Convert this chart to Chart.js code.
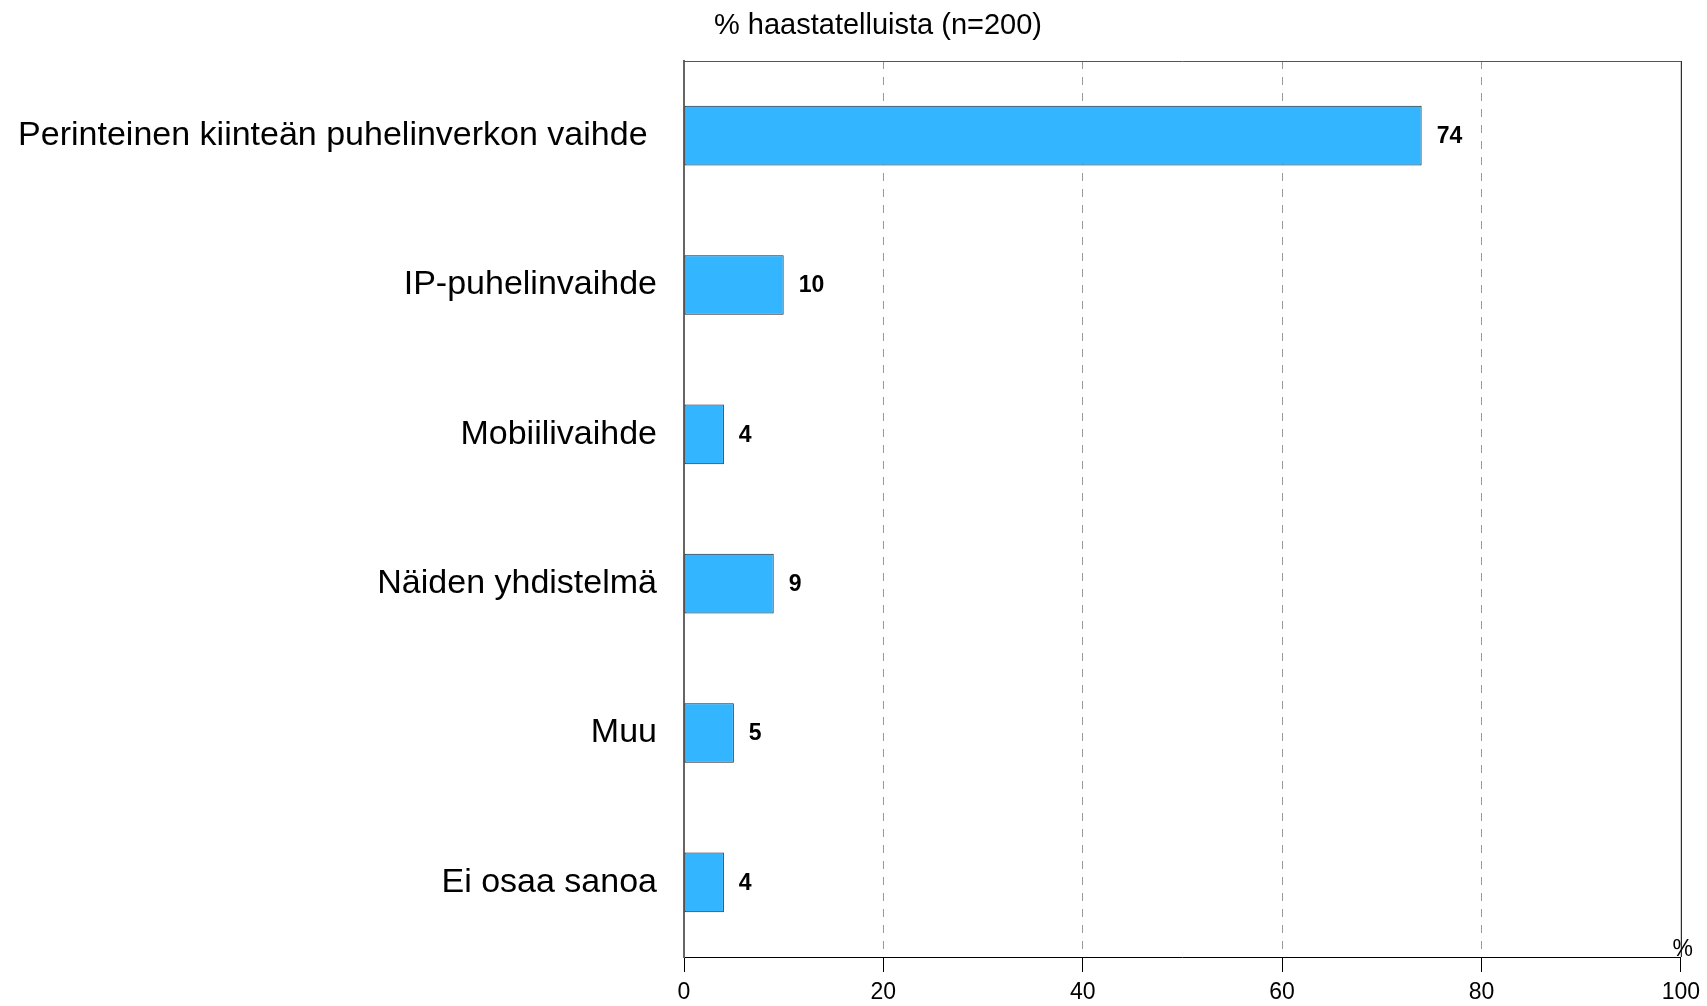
<!DOCTYPE html>
<html>
<head>
<meta charset="utf-8">
<script src="https://cdn.jsdelivr.net/npm/chart.js@4/dist/chart.umd.min.js"></script>
<style>
  body { margin: 0; background: #fff; }
  #wrap { width: 1707px; height: 1006px; position: relative; }
</style>
</head>
<body>
<div id="wrap"><canvas id="phoneChart"></canvas></div>
<script>
Chart.defaults.font.family = '"Liberation Sans", Arial, sans-serif'
Chart.defaults.color = '#000'

// values
const categories = [
    'Perinteinen kiinteän puhelinverkon vaihde ',
    'IP-puhelinvaihde',
    'Mobiilivaihde',
    'Näiden yhdistelmä',
    'Muu',
    'Ei osaa sanoa'
]
const shares = [74, 10, 4, 9, 5, 4]
const xTicks = [0, 20, 40, 60, 80, 100]
const titleText = '% haastatelluista (n=200)'
const unitText = '%'

// frame, title, % sign and the numbers next to the bars
const extrasPlugin = {
    id: 'extras',
    afterDatasetsDraw(chart) {
        const { ctx, chartArea: a } = chart
        ctx.save()

        // top border and right (100) border
        ctx.strokeStyle = '#555'
        ctx.lineWidth = 1
        ctx.beginPath()
        ctx.moveTo(a.left, a.top + 0.5)
        ctx.lineTo(a.right, a.top + 0.5)
        ctx.stroke()
        ctx.strokeStyle = '#000'
        ctx.beginPath()
        ctx.moveTo(a.right + 0.5, a.top)
        ctx.lineTo(a.right + 0.5, a.bottom)
        ctx.stroke()

        // value labels
        const meta = chart.getDatasetMeta(0)
        ctx.fillStyle = '#000'
        ctx.font = 'bold 23px "Liberation Sans", Arial, sans-serif'
        ctx.textAlign = 'left'
        ctx.textBaseline = 'middle'
        meta.data.forEach((bar, i) => {
            ctx.fillText(String(shares[i]), bar.x + 15, bar.y + 1)
        })

        // title above the plot
        ctx.font = '29px "Liberation Sans", Arial, sans-serif'
        ctx.textAlign = 'center'
        ctx.fillText(titleText, 878, 26)

        // unit sign at bottom right
        ctx.font = '23px "Liberation Sans", Arial, sans-serif'
        ctx.textAlign = 'center'
        ctx.textBaseline = 'alphabetic'
        ctx.fillText(unitText, a.right + 2, a.bottom - 1)

        ctx.restore()
    }
}

const data = {
    labels: categories,
    datasets: [{
        data: shares,
        backgroundColor: '#33b5ff',
        borderColor: '#222',
        borderWidth: 1,
        borderSkipped: false,
        categoryPercentage: 1,
        barPercentage: 0.4
    }]
}

const options = {
    indexAxis: 'y',
    responsive: true,
    maintainAspectRatio: false,
    animation: false,
    layout: { padding: { top: 61, right: 24, bottom: 0, left: 0 } },
    plugins: {
        legend: { display: false },
        tooltip: { enabled: false }
    },
    scales: {
        x: {
            type: 'linear',
            position: 'bottom',
            min: 0,
            max: 100,
            afterBuildTicks: axis => { axis.ticks = xTicks.map(v => ({ value: v })) },
            afterFit: axis => { axis.height = 49 },
            ticks: {
                font: { size: 23 },
                color: '#000',
                padding: 7,
                maxRotation: 0
            },
            grid: {
                color: ctx => (ctx.tick && (ctx.tick.value === 0 || ctx.tick.value === 100)) ? 'rgba(0,0,0,0)' : '#999',
                lineWidth: 1,
                tickColor: '#000',
                tickLength: 15,
                tickWidth: 1
            },
            border: { display: true, color: '#000', width: 1, dash: [8, 8] }
        },
        y: {
            afterFit: axis => { axis.width = 684 },
            ticks: {
                font: { size: 34 },
                color: '#000',
                padding: 27
            },
            grid: { display: false, drawTicks: false },
            border: { display: true, color: '#666', width: 2 }
        }
    }
}

new Chart('phoneChart', { type: 'bar', data, options, plugins: [extrasPlugin] })
</script>
</body>
</html>
